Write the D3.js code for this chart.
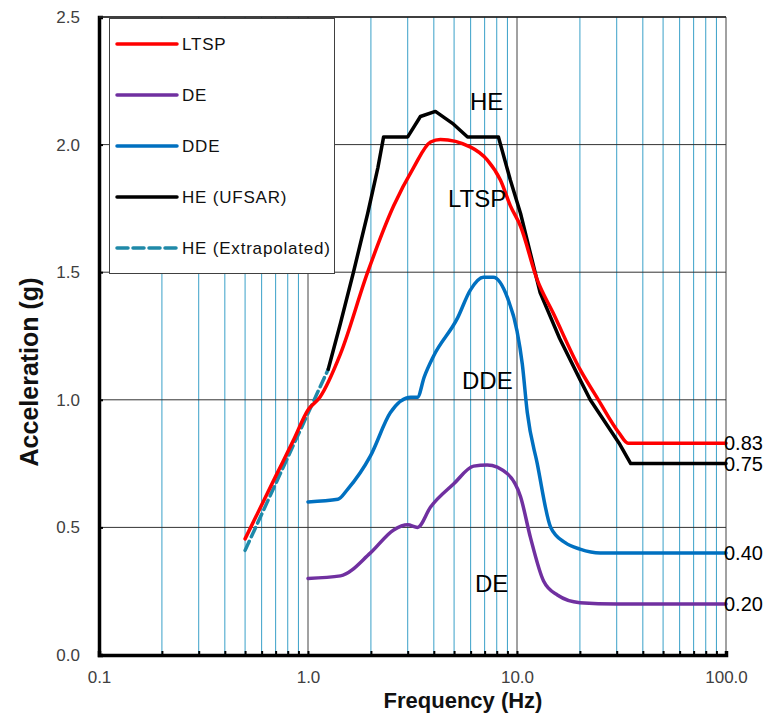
<!DOCTYPE html>
<html>
<head>
  <title>Response spectra</title>
  <style type="text/css">
    body { margin: 0; background: #fff; }
    svg { font-family: Arial, "Liberation Sans", sans-serif; }
    .curve { fill: none; stroke-width: 3.5; stroke-linejoin: round; stroke-linecap: round; }
  </style>
</head>
<body>
  <script type="text/javascript" src="https://cdn.jsdelivr.net/npm/d3@7/dist/d3.min.js"></script>
  <script type="text/javascript">
    // frequency (Hz) / acceleration (g) pairs
    var ltspFreq = [0.5, 0.7, 0.85, 1.0, 1.14, 1.43, 1.93, 2.57, 3.2, 3.86, 4.3, 6.0, 7.2, 8.34, 9.3, 10.4, 12.5, 14.9, 20, 24.5, 30.8, 34, 100];
    var ltspAcc  = [0.455, 0.70, 0.84, 0.96, 1.01, 1.18, 1.5, 1.76, 1.91, 2.01, 2.02, 1.99, 1.94, 1.86, 1.76, 1.68, 1.47, 1.34, 1.12, 1.0, 0.87, 0.83, 0.83];

    var deFreq = [1.0, 1.43, 1.99, 2.57, 3.0, 3.34, 3.86, 4.97, 6.2, 7.2, 9.0, 10.4, 11.6, 13.4, 15.6, 20, 30, 100];
    var deAcc  = [0.30, 0.31, 0.40, 0.49, 0.51, 0.50, 0.58, 0.67, 0.74, 0.745, 0.71, 0.62, 0.46, 0.29, 0.235, 0.205, 0.20, 0.20];

    var ddeFreq = [1.0, 1.39, 1.55, 1.99, 2.48, 3.1, 3.34, 3.6, 3.98, 5.19, 5.98, 6.9, 7.7, 9.0, 10.0, 10.6, 11.2, 12.5, 14.5, 17, 20, 25, 100];
    var ddeAcc  = [0.60, 0.61, 0.65, 0.78, 0.95, 1.01, 1.01, 1.09, 1.17, 1.32, 1.43, 1.48, 1.48, 1.40, 1.27, 1.14, 0.95, 0.75, 0.50, 0.44, 0.415, 0.40, 0.40];

    var heFreq = [1.25, 1.43, 1.65, 1.93, 2.16, 2.3, 3.0, 3.45, 4.07, 4.97, 5.8, 8.15, 9.3, 10.4, 12.9, 16, 20, 22.4, 30.8, 35, 100];
    var heAcc  = [1.12, 1.30, 1.50, 1.73, 1.91, 2.03, 2.03, 2.11, 2.13, 2.08, 2.03, 2.03, 1.86, 1.73, 1.42, 1.24, 1.08, 1.0, 0.83, 0.75, 0.75];

    var extFreq = [0.5, 1.25];
    var extAcc  = [0.41, 1.12];

    var legendNames = ["LTSP", "DE", "DDE", "HE (UFSAR)", "HE (Extrapolated)"];
    var endLabels = ["0.83", "0.75", "0.40", "0.20"];
    var endValues = [0.83, 0.75, 0.40, 0.20];
    var curveNames = ["HE", "LTSP", "DDE", "DE"];

    var xMajor = [0.1, 1, 10, 100];
    var xMajorLabels = ["0.1", "1.0", "10.0", "100.0"];
    var xMinor = [0.2, 0.3, 0.4, 0.5, 0.6, 0.7, 0.8, 0.9, 2, 3, 4, 5, 6, 7, 8, 9, 20, 30, 40, 50, 60, 70, 80, 90];
    var yTicks = [0, 0.5, 1.0, 1.5, 2.0, 2.5];
    var yTickLabels = ["0.0", "0.5", "1.0", "1.5", "2.0", "2.5"];

    var w = 778, h = 715;
    // plot area edges (note: "top" is reserved on window, so use pTop etc.)
    var pLeft = 99, pRight = 726, pTop = 17, pBottom = 655;

    var svg = d3.select("body").append("svg")
      .attr("width", w)
      .attr("height", h);

    var x = d3.scaleLog().domain([0.1, 100]).range([pLeft, pRight]);
    var y = d3.scaleLinear().domain([0, 2.5]).range([pBottom, pTop]);

    // grid
    svg.append("g").selectAll("line")
      .data(xMinor)
      .enter().append("line")
      .attr("x1", d => x(d)).attr("x2", d => x(d))
      .attr("y1", pTop).attr("y2", pBottom)
      .attr("stroke", "#3aa0c8").attr("stroke-width", 1);

    svg.append("g").selectAll("line")
      .data(xMajor.slice(1))
      .enter().append("line")
      .attr("x1", d => x(d)).attr("x2", d => x(d))
      .attr("y1", pTop).attr("y2", pBottom)
      .attr("stroke", "#444").attr("stroke-width", 1);

    svg.append("g").selectAll("line")
      .data(yTicks.slice(1))
      .enter().append("line")
      .attr("x1", pLeft).attr("x2", pRight)
      .attr("y1", d => y(d)).attr("y2", d => y(d))
      .attr("stroke", "#333").attr("stroke-width", 1);

    // axes
    var xAxis = d3.axisBottom(x)
      .tickValues(xMajor.concat(xMinor))
      .tickSize(-4)
      .tickPadding(16)
      .tickFormat(d => { var i = xMajor.indexOf(d); return i >= 0 ? xMajorLabels[i] : ""; });

    var gx = svg.append("g")
      .attr("transform", "translate(0," + pBottom + ")")
      .call(xAxis);

    var yAxis = d3.axisLeft(y)
      .tickValues(yTicks)
      .tickSize(-4)
      .tickPadding(19)
      .tickFormat((d, i) => yTickLabels[i]);

    var gy = svg.append("g")
      .attr("transform", "translate(" + pLeft + ",0)")
      .call(yAxis);

    [gx, gy].forEach(g => {
      g.select(".domain").attr("stroke", "#000").attr("stroke-width", 3.5);
      g.selectAll(".tick line").attr("stroke", "#000").attr("stroke-width", 2);
      g.selectAll(".tick text")
        .attr("fill", "#404040")
        .style("font-size", "17px")
        .style("font-family", "Arial, 'Liberation Sans', sans-serif");
    });

    // axis titles
    svg.append("text")
      .attr("x", 463).attr("y", 708)
      .attr("text-anchor", "middle")
      .style("font-size", "22px").style("font-weight", "bold")
      .attr("fill", "#111")
      .text("Frequency (Hz)");

    svg.append("text")
      .attr("transform", "translate(38,372) rotate(-90)")
      .attr("text-anchor", "middle")
      .style("font-size", "25px").style("font-weight", "bold")
      .attr("fill", "#111")
      .text("Acceleration (g)");

    // curves
    function pts(f, a) { return f.map((d, i) => [d, a[i]]); }

    var smooth = d3.line()
      .x(d => x(d[0])).y(d => y(d[1]))
      .curve(d3.curveMonotoneX);
    var straight = d3.line()
      .x(d => x(d[0])).y(d => y(d[1]));

    svg.append("path").attr("class", "curve")
      .attr("d", smooth(pts(deFreq, deAcc)))
      .attr("stroke", "#7030a0");
    svg.append("path").attr("class", "curve")
      .attr("d", smooth(pts(ddeFreq, ddeAcc)))
      .attr("stroke", "#0070c0");
    svg.append("path").attr("class", "curve")
      .attr("d", straight(pts(extFreq, extAcc)))
      .attr("stroke", "#1f89a8")
      .attr("stroke-linecap", "butt")
      .attr("stroke-dasharray", "10,5");
    svg.append("path").attr("class", "curve")
      .attr("d", straight(pts(heFreq, heAcc)))
      .attr("stroke", "#000");
    svg.append("path").attr("class", "curve")
      .attr("d", smooth(pts(ltspFreq, ltspAcc)))
      .attr("stroke", "#ff0000");

    // curve names
    var namePos = [[470, 110], [448, 207], [462, 389], [475, 592]];
    svg.append("g").selectAll("text")
      .data(curveNames)
      .enter().append("text")
      .attr("x", (d, i) => namePos[i][0])
      .attr("y", (d, i) => namePos[i][1])
      .style("font-size", "24px")
      .attr("fill", "#000")
      .text(d => d);

    // end values
    svg.append("g").selectAll("text")
      .data(endLabels)
      .enter().append("text")
      .attr("x", pRight - 2)
      .attr("y", (d, i) => y(endValues[i]) + 7)
      .style("font-size", "20px")
      .attr("fill", "#000")
      .text(d => d);

    // top border
    svg.append("line")
      .attr("x1", pLeft).attr("x2", pRight)
      .attr("y1", pTop).attr("y2", pTop)
      .attr("stroke", "#222").attr("stroke-width", 1.5);

    // legend
    var legendColors = ["#ff0000", "#7030a0", "#0070c0", "#000", "#1f89a8"];
    var lg = svg.append("g");
    lg.append("rect")
      .attr("x", 109.5).attr("y", 18.5)
      .attr("width", 225).attr("height", 255)
      .attr("fill", "#fff").attr("stroke", "#404040");

    var rows = lg.selectAll("g.row")
      .data(legendNames)
      .enter().append("g")
      .attr("transform", (d, i) => "translate(0," + (44 + i * 51) + ")");
    rows.append("line")
      .attr("x1", 117).attr("x2", 177)
      .attr("stroke", (d, i) => legendColors[i])
      .attr("stroke-width", 3.5)
      .attr("stroke-linecap", "round")
      .attr("stroke-dasharray", (d, i) => i == 4 ? "11,5" : null);
    rows.append("text")
      .attr("x", 182).attr("y", 6)
      .style("font-size", "17px")
      .style("letter-spacing", "0.8px")
      .attr("fill", "#111")
      .text(d => d);
  </script>
</body>
</html>
